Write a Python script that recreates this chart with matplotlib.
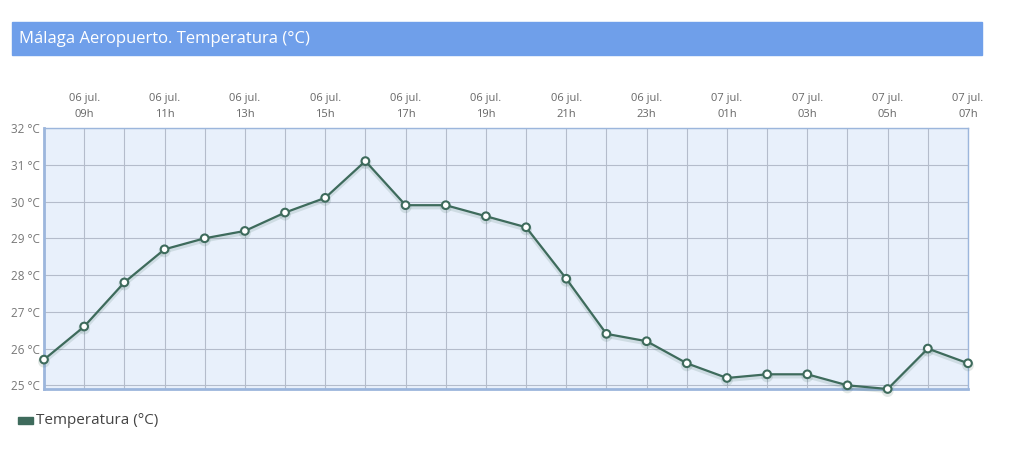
import numpy as np
import matplotlib.pyplot as plt
import matplotlib.patheffects as pe
from matplotlib.patches import Rectangle

plt.rcParams['font.family'] = ['Open Sans', 'DejaVu Sans']

# hourly readings, 06 jul 08h -> 07 jul 07h
days = ["06"] * 16 + ["07"] * 8
hours = ["08", "09", "10", "11", "12", "13", "14", "15", "16", "17", "18", "19",
         "20", "21", "22", "23", "00", "01", "02", "03", "04", "05", "06", "07"]
temps = [25.7, 26.6, 27.8, 28.7, 29.0, 29.2, 29.7, 30.1, 31.1, 29.9, 29.9, 29.6,
         29.3, 27.9, 26.4, 26.2, 25.6, 25.2, 25.3, 25.3, 25.0, 24.9, 26.0, 25.6]
yticks = [25, 26, 27, 28, 29, 30, 31, 32]

title = "Málaga Aeropuerto. Temperatura (°C)"
series_name = "Temperatura (°C)"

line_col = "#3e6b5c"
grid_col = "#b4bccb"
border_col = "#9cb6dc"

fig = plt.figure(figsize=(10.15, 4.65), dpi=100)

# title bar
fig.patches.append(Rectangle((12 / 1015, 1 - 55 / 465), 970 / 1015, 33 / 465,
                             transform=fig.transFigure, color="#6f9fea", zorder=0))
fig.text(19 / 1015, 1 - 39 / 465, title, color="white", fontsize=12,
         va="center", ha="left")

ax = fig.add_axes([44 / 1015, 76 / 465, 924 / 1015, 261 / 465])
ax.set_facecolor("#e8f0fb")

x = np.arange(len(temps))
ax.plot(x, temps, color=line_col, lw=1.6, marker="o", ms=5.5,
        mfc="white", mec=line_col, mew=1.5, clip_on=False, zorder=5,
        path_effects=[pe.SimpleLineShadow(offset=(0, -1.5), shadow_color="#3e6b5c",
                                          alpha=0.15, linewidth=3), pe.Normal()])

ax.set_xlim(0, len(temps) - 1)
ax.set_ylim(24.9, 32)
ax.set_yticks(yticks)
ax.set_yticklabels([f"{t} °C" for t in yticks])

labels = [f"{d} jul.\n{h}h" if i % 2 == 1 else "" for i, (d, h) in enumerate(zip(days, hours))]
ax.set_xticks(x)
ax.set_xticklabels(labels)
ax.xaxis.tick_top()
ax.tick_params(axis="x", length=0, pad=6, labelsize=8, labelcolor="#666666")
ax.tick_params(axis="y", length=0, pad=3, labelsize=8.5, labelcolor="#777777")
for lab in ax.get_xticklabels():
    lab.set_linespacing(1.6)

ax.grid(True, color=grid_col, lw=0.8)
ax.set_axisbelow(True)
for side in ["top", "right"]:
    ax.spines[side].set_color(border_col)
    ax.spines[side].set_linewidth(1.0)
for side in ["left", "bottom"]:
    ax.spines[side].set_color(border_col)
    ax.spines[side].set_linewidth(2.0)

# legend
fig.patches.append(Rectangle((18 / 1015, 1 - 424 / 465), 15 / 1015, 7 / 465,
                             transform=fig.transFigure, color=line_col))
fig.text(36 / 1015, 1 - 420 / 465, series_name, color="#444444", fontsize=11,
         va="center", ha="left")

fig.savefig("out.png", dpi=100)
